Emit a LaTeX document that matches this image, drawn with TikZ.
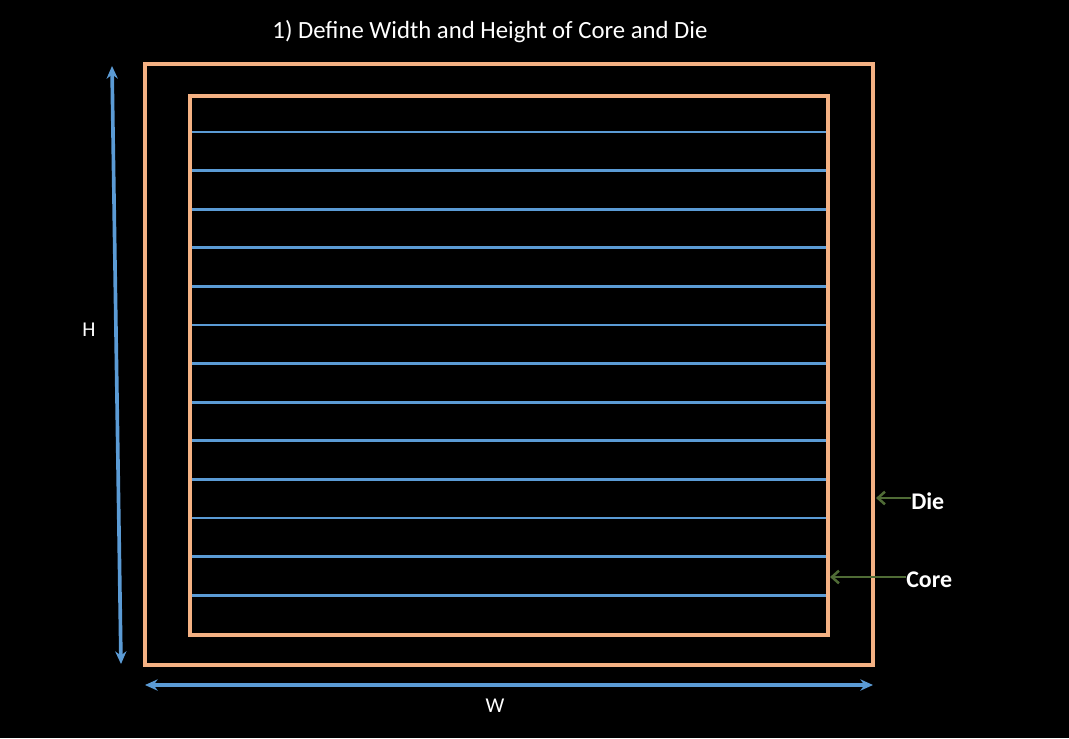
\documentclass[tikz,border=0pt]{standalone}
\usepackage{fontspec}
\setmainfont{Carlito}
\usepackage{tikz}
\usetikzlibrary{arrows.meta}
\definecolor{edgeorange}{HTML}{F4B183}
\definecolor{rowblue}{HTML}{5B9BD5}
\definecolor{tagarrow}{HTML}{4F6B35}
\tikzset{
  outline/.style={edgeorange,line width=2.2pt},
  rowline/.style={rowblue,line width=2.1pt},
  sizearrow/.style={rowblue,line width=2.6pt,{Stealth[length=9pt,width=8pt]}-{Stealth[length=9pt,width=8pt]}},
  tagline/.style={tagarrow,line width=1.8pt,{Straight Barb[length=5pt,width=9pt]}-},
  tag/.style={text=white,font=\fontsize{17}{20}\selectfont\bfseries,inner sep=0pt,anchor=west},
  dim/.style={text=white,font=\fontsize{15}{18}\selectfont,inner sep=0pt}
}
\begin{document}
\begin{tikzpicture}[x=0.025cm,y=-0.025cm]
\fill[black] (0,0) rectangle (1069,738);
\useasboundingbox (0,0) rectangle (1069,738);
\node[text=white,font=\fontsize{17.6}{21}\selectfont] (title) at (490,32) {1) Define Width and Height of Core and Die};
% die and core
\coordinate (dieNW) at (145,64);
\coordinate (dieSE) at (873,665);
\coordinate (coreNW) at (190,96);
\coordinate (coreSE) at (828,635);
\foreach \k in {0,...,12}
  \draw[rowline] (190,{132+\k*38.6})--(828,{132+\k*38.6});
\draw[outline] (dieNW) rectangle (dieSE);
\draw[outline] (coreNW) rectangle (coreSE);
% height and width
\coordinate (hTop) at (112,66);
\coordinate (hBot) at (121,664);
\draw[sizearrow] (hTop)--(hBot);
\node[dim] (hLabel) at (89,330) {H};
\coordinate (wLeft) at (145,685);
\coordinate (wRight) at (873,685);
\draw[sizearrow] (wLeft)--(wRight);
\node[dim] (wLabel) at (495,706) {W};
% labels
\node[tag] (dieTag) at (911,501) {Die};
\coordinate (dieEdge) at (876,498);
\draw[tagline] (dieEdge)--(dieTag.west |- dieEdge);
\node[tag] (coreTag) at (906,580) {Core};
\coordinate (coreEdge) at (830,577);
\draw[tagline] (coreEdge)--(coreTag.west |- coreEdge);
\end{tikzpicture}
\end{document}
